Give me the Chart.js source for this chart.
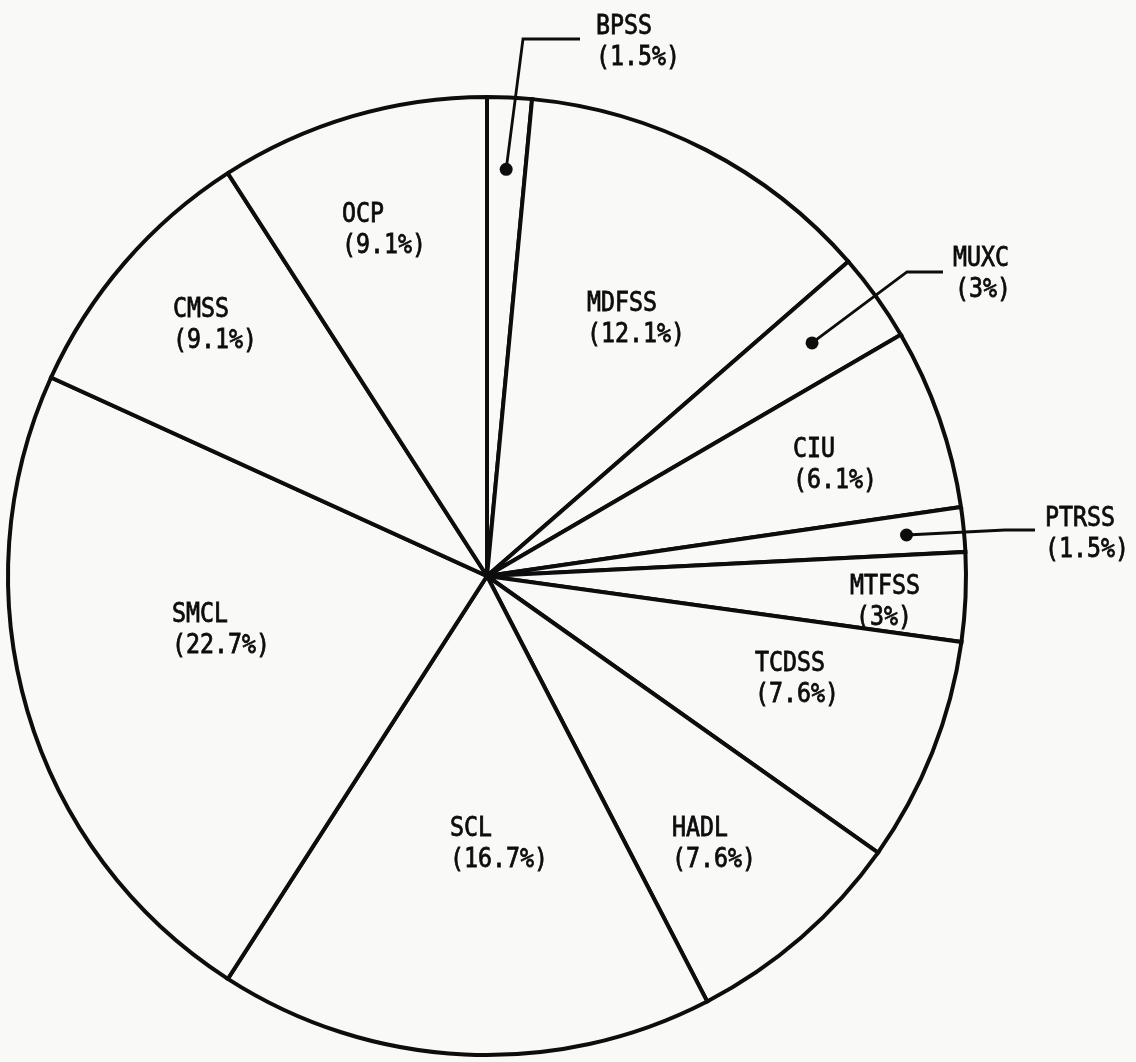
<!DOCTYPE html>
<html>
<head>
<meta charset="utf-8">
<script src="https://cdn.jsdelivr.net/npm/chart.js@4"></script>
<style>
  html, body { margin: 0; padding: 0; background: #f9f9f7; }
  #wrap { width: 1136px; height: 1062px; position: relative; }
</style>
</head>
<body>
<div id="wrap"><canvas id="c"></canvas></div>
<script>
// ---- data (clockwise from 12 o'clock) ----
const categories = ['BPSS', 'MDFSS', 'MUXC', 'CIU', 'PTRSS', 'MTFSS', 'TCDSS', 'HADL', 'SCL', 'SMCL', 'CMSS', 'OCP'];
const shares = [1.5, 12.1, 3, 6.1, 1.5, 3, 7.6, 7.6, 16.7, 22.7, 9.1, 9.1];

// ---- label layout (text placement only; canvas px, left x / cap-top y) ----
const labelLayout = {
  BPSS:  { x: 596, y: 15,  indent: 0, callout: { elbowDx: 73, endDx: 16, midDy: 24, rFrac: 0.85 } },
  MDFSS: { x: 587, y: 292, indent: 0 },
  MUXC:  { x: 953, y: 247, indent: 2, callout: { elbowDx: 46, endDx: 10, midDy: 25, rFrac: 0.835 } },
  CIU:   { x: 793, y: 438, indent: 0 },
  PTRSS: { x: 1045, y: 507, indent: 0, callout: { elbowDx: 40, endDx: 10, midDy: 23, rFrac: 0.88 } },
  MTFSS: { x: 850, y: 575, indent: 6 },
  TCDSS: { x: 755, y: 652, indent: 0 },
  HADL:  { x: 672, y: 817, indent: 0 },
  SCL:   { x: 450, y: 817, indent: 0 },
  SMCL:  { x: 172, y: 603, indent: 0 },
  CMSS:  { x: 173, y: 298, indent: 0 },
  OCP:   { x: 342, y: 203, indent: 0 }
};

const INK = '#0d0d0d';
const PAPER = '#f9f9f7';
const FONT_SIZE = 26;
const CAP = 19;
const LINE_GAP = 31;
const XSCALE = 0.895;

function drawText(ctx, txt, x, capTop) {
  ctx.save();
  ctx.translate(x, capTop + CAP);
  ctx.scale(XSCALE, 1);
  ctx.fillText(txt, 0, 0);
  ctx.strokeText(txt, 0, 0);
  ctx.restore();
}

const paperPlugin = {
  id: 'paper',
  beforeDraw(chart) {
    const ctx = chart.ctx;
    ctx.save();
    ctx.fillStyle = PAPER;
    ctx.fillRect(0, 0, chart.width, chart.height);
    ctx.restore();
  }
};

const labelPlugin = {
  id: 'sliceLabels',
  afterDatasetsDraw(chart) {
    const ctx = chart.ctx;
    const meta = chart.getDatasetMeta(0);
    ctx.save();
    ctx.fillStyle = INK;
    ctx.strokeStyle = INK;
    ctx.font = FONT_SIZE + 'px "DejaVu Sans Mono", monospace';
    ctx.textBaseline = 'alphabetic';
    ctx.textAlign = 'left';
    meta.data.forEach((arc, i) => {
      const name = categories[i];
      const lay = labelLayout[name];
      if (!lay) return;
      const pct = '(' + shares[i] + '%)';
      ctx.lineWidth = 0.8;
      drawText(ctx, name, lay.x, lay.y);
      drawText(ctx, pct, lay.x + lay.indent, lay.y + LINE_GAP);
      if (lay.callout) {
        const p = arc.getProps(['x', 'y', 'startAngle', 'endAngle', 'outerRadius'], true);
        const mid = (p.startAngle + p.endAngle) / 2;
        const r = p.outerRadius * lay.callout.rFrac;
        const dx = p.x + Math.cos(mid) * r;
        const dy = p.y + Math.sin(mid) * r;
        const my = lay.y + lay.callout.midDy;
        ctx.lineWidth = 2.8;
        ctx.lineJoin = 'miter';
        ctx.beginPath();
        ctx.moveTo(dx, dy);
        ctx.lineTo(lay.x - lay.callout.elbowDx, my);
        ctx.lineTo(lay.x - lay.callout.endDx, my);
        ctx.stroke();
        ctx.beginPath();
        ctx.arc(dx, dy, 6.5, 0, Math.PI * 2);
        ctx.fill();
      }
    });
    ctx.restore();
  }
};

new Chart(document.getElementById('c'), {
  type: 'pie',
  data: {
    labels: categories,
    datasets: [{
      data: shares,
      backgroundColor: PAPER,
      borderColor: INK,
      borderWidth: 4,
      borderAlign: 'center',
      borderJoinStyle: 'miter'
    }]
  },
  options: {
    responsive: true,
    maintainAspectRatio: false,
    animation: false,
    rotation: 0,
    layout: { padding: { top: 94, bottom: 4, left: 6, right: 168 } },
    plugins: {
      legend: { display: false },
      tooltip: { enabled: false }
    }
  },
  plugins: [paperPlugin, labelPlugin]
});
</script>
</body>
</html>
